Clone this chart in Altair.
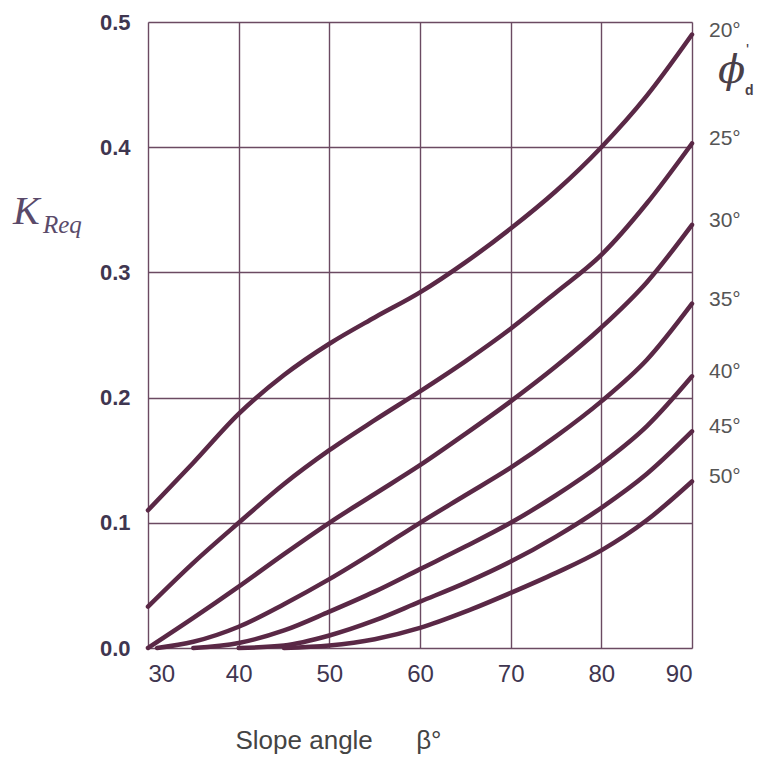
import altair as alt
import pandas as pd

# ---- data ----
phi_names = ["20°", "25°", "30°", "35°", "40°", "45°", "50°"]

beta_20 = [30, 35, 40, 45, 50, 55, 60, 65, 70, 75, 80, 85, 90]
k_20 = [0.110, 0.148, 0.187, 0.218, 0.243, 0.264, 0.284, 0.308, 0.335, 0.365, 0.400, 0.441, 0.490]

beta_25 = [30, 35, 40, 45, 50, 55, 60, 65, 70, 75, 80, 85, 90]
k_25 = [0.033, 0.068, 0.100, 0.131, 0.158, 0.182, 0.205, 0.229, 0.255, 0.284, 0.314, 0.355, 0.403]

beta_30 = [30, 35, 40, 45, 50, 55, 60, 65, 70, 75, 80, 85, 90]
k_30 = [0.0, 0.024, 0.049, 0.075, 0.100, 0.123, 0.146, 0.171, 0.197, 0.225, 0.256, 0.292, 0.338]

beta_35 = [31, 35, 40, 45, 50, 55, 60, 65, 70, 75, 80, 85, 90]
k_35 = [0.0, 0.005, 0.017, 0.035, 0.055, 0.077, 0.100, 0.122, 0.144, 0.169, 0.197, 0.230, 0.275]

beta_40 = [35, 40, 45, 50, 55, 60, 65, 70, 75, 80, 85, 90]
k_40 = [0.0, 0.004, 0.014, 0.029, 0.045, 0.063, 0.081, 0.100, 0.122, 0.147, 0.177, 0.217]

beta_45 = [40, 45, 50, 55, 60, 65, 70, 75, 80, 85, 90]
k_45 = [0.0, 0.002, 0.010, 0.022, 0.037, 0.052, 0.069, 0.089, 0.112, 0.139, 0.173]

beta_50 = [45, 50, 55, 60, 65, 70, 75, 80, 85, 90]
k_50 = [0.0, 0.002, 0.007, 0.016, 0.029, 0.044, 0.060, 0.078, 0.102, 0.133]

x_ticks = [30, 40, 50, 60, 70, 80, 90]
y_ticks = [0.0, 0.1, 0.2, 0.3, 0.4, 0.5]

x_title = "Slope angle\u00a0\u00a0\u00a0\u00a0\u00a0\u00a0β°"
y_title_main = ["K"]
y_title_sub = ["Req"]
phi_symbol = ["ϕ"]
phi_sub = ["d"]
phi_prime = ["'"]

# ---- build tables ----
series = [(beta_20, k_20), (beta_25, k_25), (beta_30, k_30), (beta_35, k_35),
          (beta_40, k_40), (beta_45, k_45), (beta_50, k_50)]
rows = []
ends = []
for name, (bs, ks) in zip(phi_names, series):
    for b, k in zip(bs, ks):
        rows.append({"phi": name, "beta": b, "k": k})
    ends.append({"phi": name, "beta": bs[-1], "k": ks[-1]})
df = pd.DataFrame(rows)
df_end = pd.DataFrame(ends)

LINE = "#5a2846"
GRID = "#6b4a62"
TEXT = "#3f3650"
NARROW = "Liberation Sans Narrow, Arial Narrow, Liberation Sans"

xscale = alt.Scale(domain=[30, 90], nice=False, zero=False)
yscale = alt.Scale(domain=[0, 0.5], nice=False)

lines = alt.Chart(df).mark_line(interpolate="monotone", strokeWidth=4.5, color=LINE,
                                strokeCap="round").encode(
    x=alt.X("beta:Q", scale=xscale,
            axis=alt.Axis(values=x_ticks, grid=True, gridColor=GRID, gridWidth=1.4,
                          domain=False, ticks=False, labelFontSize=24,
                          labelFont=NARROW, labelColor=TEXT,
                          labelPadding=14, title=x_title, titleFontSize=26,
                          titleFont="Liberation Sans", titleFontWeight="normal",
                          titleColor="#444444", titleX=190, titleY=92,
                          titleAlign="center", titleBaseline="middle")),
    y=alt.Y("k:Q", scale=yscale,
            axis=alt.Axis(values=y_ticks, format=".1f", grid=True, gridColor=GRID,
                          gridWidth=1.4, domain=False, ticks=False, labelFontSize=22,
                          labelFont="Liberation Sans", labelFontWeight="bold",
                          labelColor=TEXT, labelPadding=18, title=None)),
    detail="phi:N",
)

end_labels = alt.Chart(df_end).mark_text(align="left", baseline="middle", dx=17, dy=-4,
                                         fontSize=21, font=NARROW,
                                         color="#555555").encode(
    x=alt.X("beta:Q", scale=xscale),
    y=alt.Y("k:Q", scale=yscale),
    text="phi:N",
)

k_main = alt.Chart(pd.DataFrame({"t": y_title_main})).mark_text(
    align="left", baseline="middle", fontSize=40, font="Liberation Serif",
    fontStyle="italic", color="#5a4a6a").encode(
    x=alt.value(-135), y=alt.value(190), text="t:N")

k_sub = alt.Chart(pd.DataFrame({"t": y_title_sub})).mark_text(
    align="left", baseline="middle", fontSize=25, font="Liberation Serif",
    fontStyle="italic", color="#5a4a6a").encode(
    x=alt.value(-105), y=alt.value(203), text="t:N")

phi_t = alt.Chart(pd.DataFrame({"t": phi_symbol})).mark_text(
    align="left", baseline="middle", fontSize=40, font="DejaVu Serif",
    fontStyle="italic", color="#4a4048").encode(
    x=alt.value(570), y=alt.value(49), text="t:N")

phi_d = alt.Chart(pd.DataFrame({"t": phi_sub})).mark_text(
    align="left", baseline="middle", fontSize=14, font="Liberation Sans",
    fontWeight="bold", color="#4a4048").encode(
    x=alt.value(597), y=alt.value(69), text="t:N")

phi_p = alt.Chart(pd.DataFrame({"t": phi_prime})).mark_text(
    align="left", baseline="middle", fontSize=16, font="Liberation Sans",
    color="#4a4048").encode(
    x=alt.value(598), y=alt.value(29), text="t:N")

chart = alt.layer(lines, end_labels, k_main, k_sub, phi_t, phi_d, phi_p).properties(
    width=544, height=626,
    autosize=alt.AutoSizeParams(type="none"),
    padding={"left": 140, "top": 14, "right": 63, "bottom": 110},
).configure_view(stroke="#4a2d45", strokeWidth=3).configure(background="white")

chart.save("out.html", embed_options={"renderer": "svg", "actions": False})
